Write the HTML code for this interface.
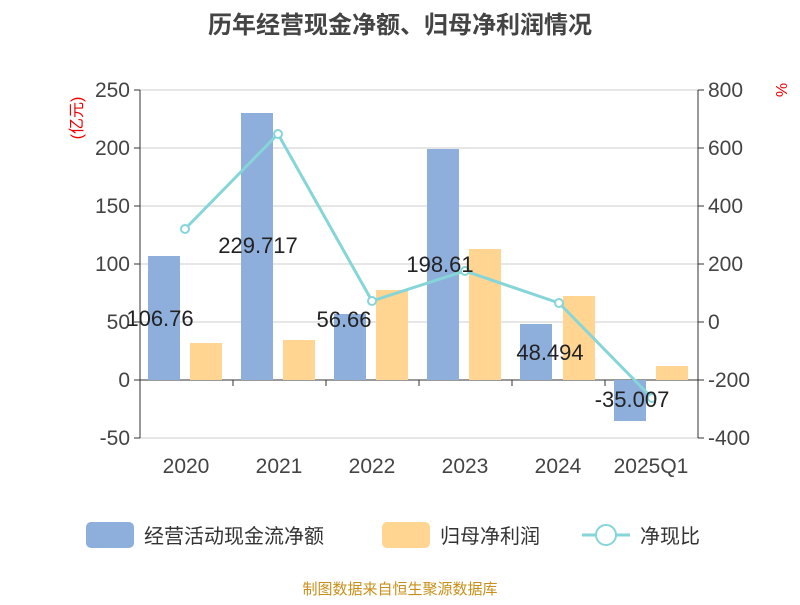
<!DOCTYPE html>
<html><head><meta charset="utf-8"><style>
body{margin:0;background:#fff;width:800px;height:600px;overflow:hidden}
text{font-family:"Liberation Sans","Noto Sans CJK SC",sans-serif}
</style></head><body>
<svg width="800" height="600" xmlns="http://www.w3.org/2000/svg">
<text x="400" y="33" text-anchor="middle" font-size="24" font-weight="bold" fill="#444">历年经营现金净额、归母净利润情况</text>
<g stroke="#ccc" stroke-width="1">
<line x1="140" y1="90" x2="698" y2="90"/><line x1="140" y1="148" x2="698" y2="148"/>
<line x1="140" y1="206" x2="698" y2="206"/><line x1="140" y1="264" x2="698" y2="264"/>
<line x1="140" y1="322" x2="698" y2="322"/><line x1="140" y1="438" x2="698" y2="438"/>
</g>
<g stroke="#333" stroke-width="1">
<line x1="140" y1="90" x2="140" y2="438"/><line x1="698" y1="90" x2="698" y2="438"/>
<line x1="140" y1="380" x2="698" y2="380"/>
<line x1="134" y1="90" x2="140" y2="90"/><line x1="134" y1="148" x2="140" y2="148"/><line x1="134" y1="206" x2="140" y2="206"/><line x1="134" y1="264" x2="140" y2="264"/><line x1="134" y1="322" x2="140" y2="322"/><line x1="134" y1="380" x2="140" y2="380"/><line x1="134" y1="438" x2="140" y2="438"/>
<line x1="698" y1="90" x2="704" y2="90"/><line x1="698" y1="148" x2="704" y2="148"/><line x1="698" y1="206" x2="704" y2="206"/><line x1="698" y1="264" x2="704" y2="264"/><line x1="698" y1="322" x2="704" y2="322"/><line x1="698" y1="380" x2="704" y2="380"/><line x1="698" y1="438" x2="704" y2="438"/>
<line x1="233" y1="380" x2="233" y2="386"/><line x1="326" y1="380" x2="326" y2="386"/><line x1="419" y1="380" x2="419" y2="386"/><line x1="512" y1="380" x2="512" y2="386"/><line x1="605" y1="380" x2="605" y2="386"/>
</g>
<g font-size="21" fill="#444" text-anchor="end">
<text x="130" y="97">250</text><text x="130" y="155">200</text><text x="130" y="213">150</text><text x="130" y="271">100</text><text x="130" y="329">50</text><text x="130" y="387">0</text><text x="130" y="445">-50</text>
</g>
<g font-size="21" fill="#444" text-anchor="start">
<text x="708" y="97">800</text><text x="708" y="155">600</text><text x="708" y="213">400</text><text x="708" y="271">200</text><text x="708" y="329">0</text><text x="708" y="387">-200</text><text x="708" y="445">-400</text>
</g>
<text x="82" y="118" font-size="16" fill="#e00" text-anchor="middle" transform="rotate(-90 82 118)">(亿元)</text>
<text x="776" y="90" font-size="16" fill="#e00" text-anchor="middle" transform="rotate(90 776 90)">%</text>
<g font-size="21" fill="#444" text-anchor="middle">
<text x="186" y="473">2020</text><text x="279" y="473">2021</text><text x="372" y="473">2022</text><text x="465" y="473">2023</text><text x="558" y="473">2024</text><text x="651" y="473">2025Q1</text>
</g>
<g fill="#8eaedb">
<rect x="148" y="256" width="32" height="124"/><rect x="241" y="113" width="32" height="267"/><rect x="334" y="314" width="32" height="66"/><rect x="427" y="149" width="32" height="231"/><rect x="520" y="324" width="32" height="56"/><rect x="614" y="380" width="32" height="41"/>
</g>
<g fill="#ffd591">
<rect x="190" y="343" width="32" height="37"/><rect x="283" y="340" width="32" height="40"/><rect x="376" y="290" width="32" height="90"/><rect x="469" y="249" width="32" height="131"/><rect x="563" y="296" width="32" height="84"/><rect x="656" y="366" width="32" height="14"/>
</g>
<polyline points="185,229 278,134 372,301 465,271 559,303 652,398" fill="none" stroke="#86d5d8" stroke-width="3"/>
<g fill="#fff" stroke="#86d5d8" stroke-width="2">
<circle cx="185" cy="229" r="4"/><circle cx="278" cy="134" r="4"/><circle cx="372" cy="301" r="4"/><circle cx="465" cy="271" r="4"/><circle cx="559" cy="303" r="4"/><circle cx="652" cy="398" r="4"/>
</g>
<g font-size="22" fill="#222" text-anchor="middle">
<text x="160" y="326">106.76</text><text x="258" y="253">229.717</text><text x="344" y="327">56.66</text><text x="440" y="272">198.61</text><text x="550" y="360">48.494</text><text x="632" y="407">-35.007</text>
</g>
<rect x="86" y="522" width="48" height="26" rx="5" fill="#8eaedb"/>
<text x="144" y="543" font-size="20" fill="#333">经营活动现金流净额</text>
<rect x="382" y="522" width="48" height="26" rx="5" fill="#ffd591"/>
<text x="440" y="543" font-size="20" fill="#333">归母净利润</text>
<line x1="582" y1="535" x2="630" y2="535" stroke="#86d5d8" stroke-width="3"/>
<circle cx="606" cy="535" r="10" fill="#fff" stroke="#86d5d8" stroke-width="2"/>
<text x="640" y="543" font-size="20" fill="#333">净现比</text>
<text x="400" y="594" font-size="15" fill="#c8901a" text-anchor="middle">制图数据来自恒生聚源数据库</text>
</svg>
</body></html>
